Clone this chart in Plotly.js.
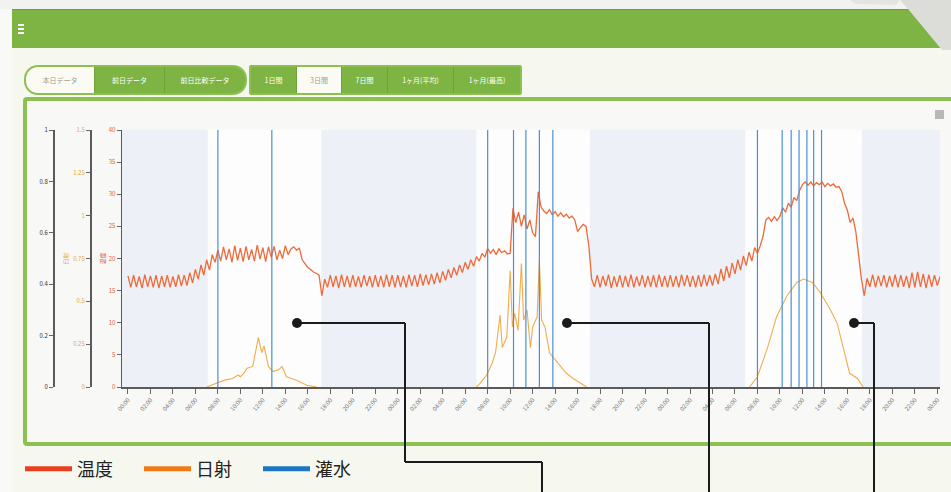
<!DOCTYPE html>
<html><head><meta charset="utf-8">
<script src="https://cdn.plot.ly/plotly-3.0.1.min.js"></script>
<style>
html,body{margin:0;padding:0;width:951px;height:492px;overflow:hidden;background:#f6f7ef;font-family:"Noto Sans CJK JP","Noto Sans",sans-serif;}
.abs{position:absolute;}
#leftstrip{left:0;top:0;width:12px;height:492px;background:#f9f9f7;}
#topstrip{left:0;top:0;width:951px;height:9px;background:#f2f2f0;}
#header{left:12px;top:9px;width:939px;height:38px;background:#7db443;border-top:1px solid #6c9f38;}
.ham{left:18px;width:6px;height:2px;background:#fff;}
.grp{top:65px;height:26px;border:2px solid #8cc152;background:#7db443;overflow:hidden;display:flex;}
.btn{height:26px;line-height:26px;color:#fff;font-size:7px;text-align:center;border-right:1px solid #6fa23a;box-sizing:border-box;white-space:nowrap;}
.sel{background:#fbfbf4;color:#a0a090;}
#panel{left:23px;top:97px;width:940px;height:341px;border:4px solid #8cc152;background:#f8f8f6;border-radius:4px;}
#menu{left:935px;top:110px;width:9px;height:9px;background:#b8b8b8;}
#chart{position:absolute;left:0;top:0;width:951px;height:492px;}
</style></head>
<body>
<div class="abs" id="leftstrip"></div>
<div class="abs" id="topstrip"></div>
<div class="abs" id="header"></div>
<div class="abs ham" style="top:24px"></div>
<div class="abs ham" style="top:28px"></div>
<div class="abs ham" style="top:32px"></div>
<svg class="abs" style="left:0;top:0" width="951" height="60"><polygon points="900,0 951,0 951,50 942,50 908,9" fill="#dcdcd8"/><polygon points="850,0 900,0 896,5 856,4" fill="#e4e4e0"/></svg>
<div class="abs grp" style="left:24px;width:219px;border-radius:14px;">
  <div class="btn sel" style="width:69px">本日データ</div>
  <div class="btn" style="width:70px">前日データ</div>
  <div class="btn" style="width:80px;border-right:none">前日比較データ</div>
</div>
<div class="abs grp" style="left:249px;width:269px;border-radius:2px;">
  <div class="btn" style="width:46px">1日間</div>
  <div class="btn sel" style="width:45px">3日間</div>
  <div class="btn" style="width:46px">7日間</div>
  <div class="btn" style="width:66px">1ヶ月(平均)</div>
  <div class="btn" style="width:66px;border-right:none">1ヶ月(最高)</div>
</div>
<div class="abs" id="panel"></div>
<div class="abs" id="menu"></div>
<div id="chart"></div>
<script>
// ---- data ----
const seriesNames = ["温度", "日射", "灌水"];
const seriesColors = ["#e8401f", "#ee7a1a", "#1a78c2"];
const startDay = "2019-11-26";
const tempStepHours = 0.25;
// temperature (°C), every 15 min
const tempDay1 = [17.3,15.5,17.4,15.6,17.2,15.4,17.5,15.6,17.3,15.5,17.4,15.4,17.3,15.6,17.4,15.5,17.2,15.6,17.5,15.7,17.4,15.8,
 17.8,16.2,18.3,16.8,19.0,17.4,19.8,18.2,20.6,19.4,
 21.3,19.6,21.8,19.8,21.5,19.4,22.0,19.7,21.6,19.5,21.9,19.8,21.4,19.6,22.1,19.9,21.7,19.5,21.8,20.2,21.9,19.8,21.3,20.0,22.0,20.6,21.5,21.8,21.3,21.6,
 19.8,19.2,18.6,18.3,17.9,17.7,17.4,14.2,16.8,
 15.5,17.4,15.6,17.3,15.4,17.5,15.6,17.3,15.5,17.4,15.6,17.2,15.5,17.4,15.7,17.3,15.5,17.4,15.6,17.3,15.5,17.5,15.6,17.4,15.5];
const tempDay2 = [17.4,15.6,17.3,15.5,17.5,15.7,17.4,15.6,17.6,15.8,17.5,15.9,
 17.6,16.0,17.8,16.2,18.0,16.6,18.3,17.0,18.6,17.4,19.0,17.8,19.4,18.3,19.8,18.8,
 20.3,19.6,20.8,20.2,21.6,20.8,21.4,20.6,21.5,20.9,21.2,20.7,20.8,
 27.8,
 25.6,27.2,25.0,26.8,24.6,26.0,24.0,23.4,
 30.4,28.0,27.4,
 27.0,27.6,26.8,27.3,26.6,27.1,26.5,26.9,26.3,26.6,26.0,
 24.2,24.8,25.3,25.0,22.0,16.8,
 15.6,17.4,15.5,17.3,15.7,17.5,15.4,17.2,15.6,17.4,15.5,17.3,15.6,17.5,15.5,17.2,15.7,17.4,15.5,17.3,15.6,17.4,15.5,17.5,15.6,17.3];
const tempDay3 = [15.5,17.4,15.6,17.3,15.5,17.5,15.7,17.4,15.6,17.3,15.5,17.4,15.6,17.5,15.7,17.4,15.8,17.6,
 16.0,18.4,16.5,18.8,17.0,19.3,17.6,19.8,18.2,20.4,18.9,21.0,19.6,21.7,
 20.8,22.0,23.5,26.0,26.4,25.8,26.5,25.9,26.6,27.9,27.2,28.6,28.0,29.5,29.0,30.6,31.5,31.9,31.4,31.9,31.3,31.8,31.5,31.9,31.2,31.7,31.3,31.6,31.1,31.2,30.4,28.6,27.5,25.6,26.3,24.2,20.5,16.8,14.2,16.9,
 15.6,17.5,15.5,17.3,15.7,17.4,15.5,17.3,15.6,17.5,15.5,17.4,15.6,17.3,15.4,17.8,15.5,17.9,15.6,17.6,15.4,17.5,15.6,17.4,
 15.8,17.2];
// solar radiation per day: hours from start of day 1, values
const solarHoursDay1 = [7.0,8.2,8.6,9.3,9.8,10.0,10.3,10.6,11.1,11.6,11.9,12.1,12.5,12.9,13.4,13.7,14.1,15.0,15.9,16.8];
const solarDay1 = [0,0.03,0.04,0.05,0.07,0.06,0.08,0.11,0.12,0.29,0.20,0.24,0.12,0.09,0.10,0.12,0.06,0.04,0.01,0];
const solarHoursDay2 = [31.0,31.3,31.8,32.0,32.4,32.7,33.1,33.3,33.7,34.0,34.2,34.4,34.7,35.0,35.2,35.5,35.8,36.0,36.4,36.6,36.8,37.1,37.5,38.0,38.4,39.0,39.6,40.5,40.8];
const solarDay2 = [0,0.02,0.06,0.08,0.14,0.20,0.42,0.23,0.29,0.68,0.35,0.43,0.33,0.72,0.39,0.45,0.23,0.35,0.41,0.74,0.39,0.35,0.20,0.16,0.13,0.08,0.05,0.01,0];
const solarHoursDay3 = [55.3,56.0,56.9,57.7,58.6,59.5,60.1,60.9,61.6,62.5,63.1,63.6,64.2,64.9,65.4];
const solarDay3 = [0,0.06,0.23,0.41,0.53,0.61,0.63,0.61,0.55,0.45,0.37,0.23,0.08,0.05,0];
// irrigation events, hours from start of day 1
const irrigationHours = [8.0,12.8,32.0,34.3,35.4,36.6,37.8,56.0,58.2,59.0,59.7,60.4,61.0,61.7];
// daylight periods (hours)
const daylightStart = [7.1,31.0,54.9];
const daylightEnd = [17.2,41.1,65.3];

// ---- helpers ----
const base = Date.parse(startDay + "T00:00:00Z");
function hToDate(h){ return new Date(base + h*3600000).toISOString().slice(0,19).replace('T',' '); }
const W = 951, H = 492, ML = 20, MR = 11, MT = 130, MB = 105;
const PW = W-ML-MR, PH = H-MT-MB;
function px(x){ return (x-ML)/PW; }
function py(y){ return (H-MB-y)/PH; }

const temps = tempDay1.concat(tempDay2, tempDay3);
const tempX = temps.map((_, i) => hToDate(i*tempStepHours));
const solX = [], solY = [];
[[solarHoursDay1, solarDay1],[solarHoursDay2, solarDay2],[solarHoursDay3, solarDay3]].forEach(([hs, vs]) => {
  hs.forEach((h, i) => { solX.push(hToDate(h)); solY.push(vs[i]); });
  solX.push(null); solY.push(null);
});
const irrX = [], irrY = [];
irrigationHours.forEach(h => { irrX.push(hToDate(h), hToDate(h), null); irrY.push(0, 1, null); });

const traces = [
  {x: tempX, y: temps, type:'scatter', mode:'lines', line:{color:'#ef6a38', width:1.3}, yaxis:'y', showlegend:false, hoverinfo:'skip'},
  {x: solX, y: solY, type:'scatter', mode:'lines', line:{color:'#f3ac4c', width:1.1}, yaxis:'y2', showlegend:false, hoverinfo:'skip', connectgaps:false},
  {x: irrX, y: irrY, type:'scatter', mode:'lines', line:{color:'#4b8fd0', width:1.2}, yaxis:'y3', showlegend:false, hoverinfo:'skip'}
];
seriesNames.forEach((n, i) => traces.push({x:[null], y:[null], type:'scatter', mode:'lines', name:n, line:{color:seriesColors[i], width:5}, showlegend:true}));

const shapes = [];
daylightStart.forEach((s, i) => shapes.push({type:'rect', xref:'x', yref:'paper', x0:hToDate(s), x1:hToDate(daylightEnd[i]), y0:0, y1:1, fillcolor:'#fdfdfe', line:{width:0}, layer:'below'}));
const callouts = [
  [[297,323],[405,323],[405,462],[542,462],[542,495]],
  [[567,323],[709,323],[709,495]],
  [[854,323],[874,323],[874,495]]
];
callouts.forEach(pl => {
  for (let i=0;i<pl.length-1;i++){
    shapes.push({type:'line', xref:'paper', yref:'paper', x0:px(pl[i][0]), y0:py(pl[i][1]), x1:px(pl[i+1][0]), y1:py(pl[i+1][1]), line:{color:'#1b1b1b', width:2}});
  }
  const [cx, cy] = pl[0];
  shapes.push({type:'circle', xref:'paper', yref:'paper', x0:px(cx-5), x1:px(cx+5), y0:py(cy+5), y1:py(cy-5), fillcolor:'#1b1b1b', line:{width:0}});
});

const axisCommon = {showline:true, linecolor:'#5a5a5a', linewidth:1.5, ticks:'outside', ticklen:4, tickcolor:'#666', showgrid:false, zeroline:false};
const layout = {
  width:W, height:H,
  margin:{l:ML, r:MR, t:MT, b:MB, autoexpand:false},
  paper_bgcolor:'rgba(0,0,0,0)', plot_bgcolor:'#eef0f7',
  font:{family:'"Noto Sans CJK JP","Noto Sans",sans-serif', size:6, color:'#555'},
  showlegend:true,
  legend:{orientation:'h', x:px(20), y:py(469), xanchor:'left', yanchor:'middle', font:{size:18, color:'#222'}, itemwidth:47, entrywidth:57, bgcolor:'rgba(0,0,0,0)'},
  xaxis:Object.assign({}, axisCommon, {type:'date', domain:[px(122),1], range:[hToDate(-0.53), hToDate(72.24)], dtick:7200000, tick0:hToDate(0), tickformat:'%H:%M', tickangle:-50, tickfont:{size:6, color:'#777'}, linewidth:2, ticklen:5, anchor:'y', automargin:false}),
  yaxis:Object.assign({}, axisCommon, {range:[0,40], dtick:5, tickfont:{size:6, color:'#e2603a'}, title:{text:'温度', font:{size:6, color:'#e2603a'}, standoff:2}, automargin:false}),
  yaxis2:Object.assign({}, axisCommon, {overlaying:'y', anchor:'free', position:px(90), side:'left', range:[0,1.5], dtick:0.25, tickfont:{size:6, color:'#e8a840'}, title:{text:'日射', font:{size:6, color:'#e8a840'}, standoff:2}, automargin:false}),
  yaxis3:Object.assign({}, axisCommon, {overlaying:'y', anchor:'free', position:px(53), side:'left', range:[0,1], dtick:0.2, tickfont:{size:6, color:'#333'}, automargin:false}),
  shapes:shapes
};
Plotly.newPlot('chart', traces, layout, {displayModeBar:false, staticPlot:true});
</script>
</body></html>
